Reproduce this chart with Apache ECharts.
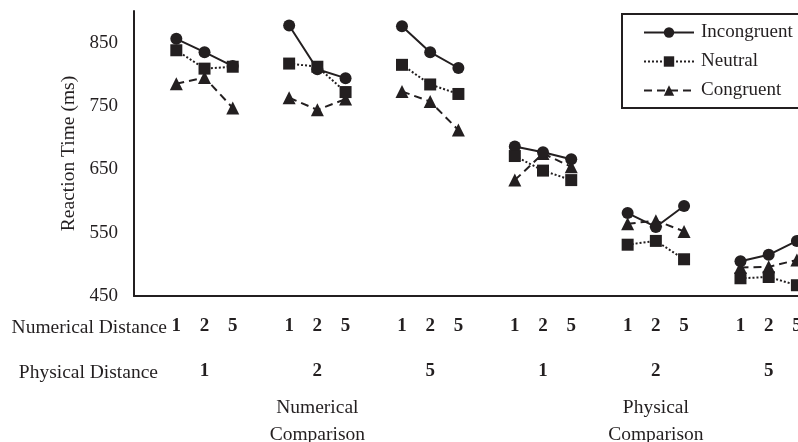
<!DOCTYPE html>
<html>
<head>
<meta charset="utf-8">
<script src="https://cdn.jsdelivr.net/npm/echarts@6/dist/echarts.min.js"></script>
<style>html,body{margin:0;padding:0;background:#fff}#c{width:798px;height:442px}</style>
</head>
<body>
<div id="c"></div>
<script>
// Numerical distance labels per slot ('' = gap between groups)
var numericalLabels = ['', '1','2','5', '', '1','2','5', '', '1','2','5', '', '1','2','5', '', '1','2','5', '', '1','2','5'];
// Physical distance labels (shown at the middle slot of each group)
var physicalLabels = ['', '','1','', '', '','2','', '', '','5','', '', '','1','', '', '','2','', '', '','5',''];
// Task labels
var taskLabels = ['', '','','', '', '','Numerical\nComparison','', '', '','','', '', '','','', '', '','Physical\nComparison','', '', '','',''];
var yTicks = [450, 550, 650, 750, 850];

// Reaction times, 3 numerical distances (1,2,5) x 6 groups
var incongruent = [856, 835, 813,  877, 808, 794,  876, 835, 810,  686, 677, 666,  581, 559, 592,  505, 515, 537];
var neutral     = [838, 809, 812,  817, 812, 772,  815, 784, 769,  671, 648, 633,  531, 537, 508,  478, 480, 467];
var congruent   = [785, 795, 747,  763, 744, 761,  773, 757, 712,  633, 675, 654,  564, 569, 552,  495, 496, 507];

function toSlots(vals) {
  var out = [];
  for (var i = 0; i < numericalLabels.length; i++) out.push(null);
  var k = 0;
  for (var j = 0; j < numericalLabels.length; j++) {
    if (numericalLabels[j] !== '') { out[j] = vals[k++]; }
  }
  return out;
}
var cats = numericalLabels.map(function (_, i) { return String(i); });
var ink = '#231f20';
var ff = '"Liberation Serif", "Times New Roman", serif';

var chart = echarts.init(document.getElementById('c'), null, {renderer: 'canvas'});
chart.setOption({
  animation: false,
  backgroundColor: '#fff',
  grid: {left: 134, right: -13, top: 11, bottom: 146, containLabel: false, outerBoundsMode: 'none'},
  legend: {
    orient: 'vertical', left: 622, top: 14,
    padding: [9, 10, 8, 21],
    itemWidth: 50, itemHeight: 13, itemGap: 10,
    borderColor: ink, borderWidth: 2,
    textStyle: {fontFamily: ff, fontSize: 19, color: ink, padding: [0, 0, 0, 2]},
    data: ['Incongruent', 'Neutral', 'Congruent']
  },
  xAxis: [
    {
      type: 'category', data: cats, position: 'bottom', boundaryGap: true,
      axisLine: {show: true, onZero: false, lineStyle: {color: ink, width: 2}},
      axisTick: {show: false},
      axisLabel: {interval: 0, margin: 21, fontFamily: ff, fontSize: 19, fontWeight: 'bold', color: ink,
        formatter: function (v, i) { return numericalLabels[i]; }},
      name: 'Numerical Distance', nameLocation: 'start', nameGap: -33, nameMoveOverlap: false,
      nameTextStyle: {fontFamily: ff, fontSize: 19.5, color: ink, verticalAlign: 'top', lineHeight: 20, padding: [22, 0, 0, 0]}
    },
    {
      type: 'category', data: cats, position: 'bottom', offset: 47, boundaryGap: true,
      axisLine: {show: false}, axisTick: {show: false},
      axisLabel: {interval: 0, margin: 19, fontFamily: ff, fontSize: 19, fontWeight: 'bold', color: ink,
        formatter: function (v, i) { return physicalLabels[i]; }},
      name: 'Physical Distance', nameLocation: 'start', nameGap: -24, nameMoveOverlap: false,
      nameTextStyle: {fontFamily: ff, fontSize: 19.5, color: ink, verticalAlign: 'top', lineHeight: 20, padding: [20, 0, 0, 0]}
    },
    {
      type: 'category', data: cats, position: 'bottom', offset: 82, boundaryGap: true,
      axisLine: {show: false}, axisTick: {show: false},
      axisLabel: {interval: 0, margin: 16, fontFamily: ff, fontSize: 19.5, lineHeight: 27, color: ink, align: 'center',
        formatter: function (v, i) { return taskLabels[i]; }}
    }
  ],
  yAxis: {
    type: 'value', min: 450, max: 900, interval: 50,
    axisLine: {show: true, lineStyle: {color: ink, width: 2}},
    axisTick: {show: false},
    splitLine: {show: false},
    axisLabel: {margin: 16, fontFamily: ff, fontSize: 19, color: ink,
      formatter: function (v) { return yTicks.indexOf(v) >= 0 ? String(v) : ''; }},
    name: 'Reaction Time (ms)', nameLocation: 'middle', nameGap: 55, nameRotate: 90,
    nameTextStyle: {fontFamily: ff, fontSize: 19.5, color: ink}
  },
  series: [
    {
      name: 'Incongruent', type: 'line', data: toSlots(incongruent), connectNulls: false,
      symbol: 'circle', symbolSize: 12, z: 3,
      lineStyle: {color: ink, width: 2, type: 'solid'}, itemStyle: {color: ink}
    },
    {
      name: 'Neutral', type: 'line', data: toSlots(neutral), connectNulls: false,
      symbol: 'rect', symbolSize: 12, z: 4,
      lineStyle: {color: ink, width: 2, type: 'dotted'}, itemStyle: {color: ink}
    },
    {
      name: 'Congruent', type: 'line', data: toSlots(congruent), connectNulls: false,
      symbol: 'triangle', symbolSize: 13, z: 2,
      lineStyle: {color: ink, width: 2, type: [8, 5]}, itemStyle: {color: ink}
    }
  ]
});
</script>
</body>
</html>
